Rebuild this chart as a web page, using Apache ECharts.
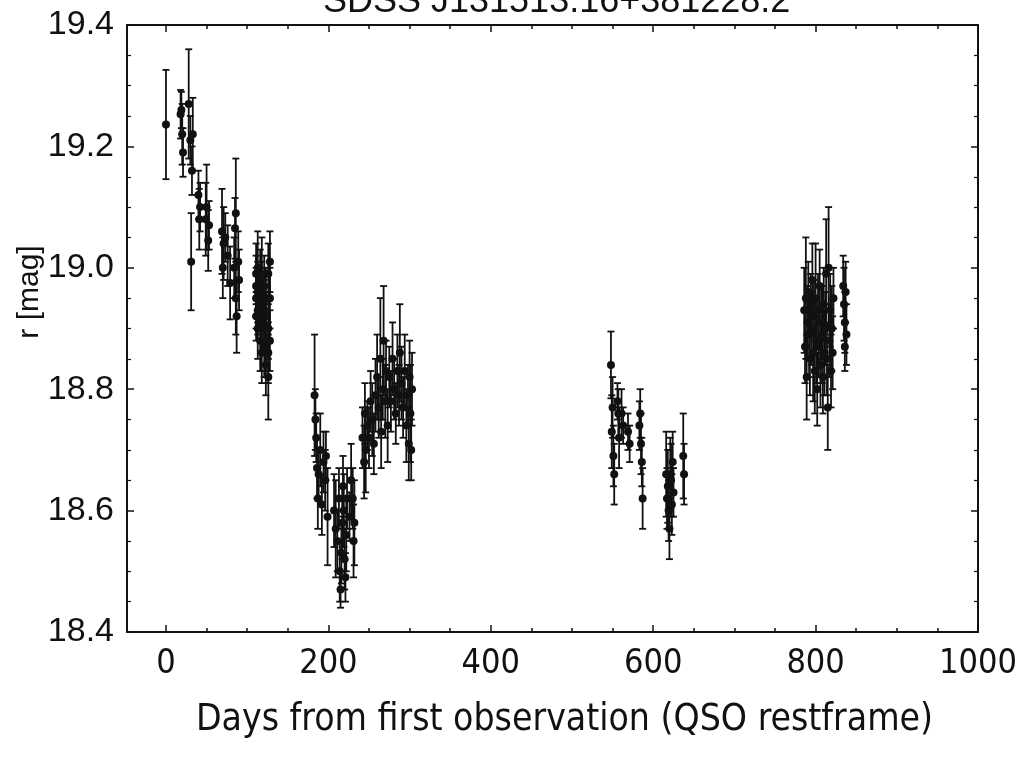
<!DOCTYPE html>
<html>
<head>
<meta charset="utf-8">
<script src="https://cdn.jsdelivr.net/npm/echarts@6/dist/echarts.min.js"></script>
<style>
html,body{margin:0;padding:0;background:#fff;}
#chart{width:1024px;height:763px;}
</style>
</head>
<body>
<div id="chart"></div>
<script>
// ---- Data: [day, r magnitude, error] ----
const days = [
  0,18,19,20,21,28,30,31,32,33,40,41,42,49,50,52,53,
  69,70,71,73,76,79,84,85,86,86,87,89,90,
  111,111,111,111,113,113,113,113,116,116,116,116,118,118,118,118,121,121,121,121,123,123,123,123,126,126,126,126,128,128,128,
  183,184,185,186,187,188,190,192,194,196,197,199,
  207,209,211,213,214,215,216,217,218,219,220,221,222,223,226,228,230,231,232,
  242,244,245,246,248,250,252,254,256,258,260,262,264,265,267,268,270,271,273,275,277,279,281,283,285,287,288,290,292,294,296,298,299,300,301,302,303,
  548,549,550,551,552,556,557,558,561,563,569,571,583,584,585,586,587,
  616,617,618,619,620,621,622,623,624,625,637,638,
  786,787,788,789,790,791,792,793,794,795,796,797,798,799,800,801,802,803,804,805,806,807,808,809,810,811,812,813,814,815,816,817,818,819,820,821,822,834,835,836,837,838,836
];
const mags = [
  19.236,19.253,19.26,19.22,19.19,19.27,19.21,19.01,19.16,19.22,19.12,19.08,19.10,19.08,19.10,19.045,19.07,
  19.06,19.00,19.04,19.05,19.02,18.975,19.00,19.065,19.09,18.95,18.92,19.01,18.98,
  18.97,18.95,18.92,18.99,18.96,18.93,18.90,19.00,18.95,18.98,18.88,18.94,18.96,18.91,18.99,18.86,18.93,18.97,18.90,18.87,18.95,18.88,18.84,18.92,18.99,18.86,18.82,18.90,18.95,18.88,19.01,
  18.79,18.75,18.72,18.67,18.62,18.66,18.70,18.61,18.68,18.65,18.69,18.59,
  18.60,18.57,18.55,18.62,18.50,18.47,18.53,18.58,18.64,18.60,18.52,18.49,18.56,18.62,18.59,18.65,18.62,18.55,18.58,
  18.72,18.68,18.76,18.70,18.74,18.72,18.78,18.75,18.71,18.79,18.82,18.77,18.85,18.73,18.80,18.88,18.78,18.83,18.74,18.82,18.78,18.85,18.80,18.76,18.83,18.79,18.86,18.81,18.77,18.83,18.74,18.79,18.71,18.82,18.76,18.70,18.80,
  18.84,18.73,18.77,18.69,18.66,18.78,18.76,18.72,18.76,18.74,18.73,18.71,18.74,18.76,18.71,18.68,18.62,
  18.66,18.62,18.64,18.60,18.57,18.66,18.65,18.61,18.68,18.63,18.69,18.66,
  18.93,18.87,18.95,18.82,18.91,18.96,18.89,18.85,18.94,18.90,18.98,18.86,18.92,18.83,18.95,18.88,18.80,18.93,18.87,18.97,18.84,18.91,18.89,18.82,18.94,18.86,18.90,18.99,18.85,18.77,19.00,18.88,18.93,18.83,18.90,18.86,18.95,18.97,18.94,18.91,18.96,18.89,18.87
];
const errs = [
  0.09,0.04,0.03,0.05,0.04,0.09,0.04,0.08,0.04,0.06,0.04,0.05,0.04,0.06,0.07,0.05,0.04,
  0.07,0.05,0.06,0.04,0.05,0.06,0.05,0.05,0.09,0.06,0.06,0.05,0.05,
  0.05,0.05,0.04,0.05,0.05,0.04,0.05,0.06,0.05,0.05,0.05,0.04,0.05,0.05,0.06,0.05,0.05,0.05,0.04,0.05,0.05,0.05,0.05,0.04,0.05,0.05,0.07,0.05,0.05,0.05,0.05,
  0.10,0.05,0.04,0.05,0.05,0.04,0.06,0.05,0.05,0.05,0.04,0.08,
  0.06,0.08,0.05,0.05,0.05,0.03,0.05,0.06,0.05,0.06,0.05,0.04,0.06,0.05,0.04,0.06,0.05,0.06,0.07,
  0.05,0.06,0.05,0.07,0.04,0.05,0.05,0.06,0.05,0.06,0.07,0.05,0.10,0.06,0.05,0.09,0.06,0.05,0.06,0.05,0.05,0.06,0.05,0.05,0.06,0.05,0.08,0.06,0.05,0.06,0.06,0.05,0.06,0.06,0.08,0.05,0.06,
  0.055,0.06,0.05,0.05,0.05,0.03,0.04,0.05,0.04,0.03,0.03,0.03,0.04,0.04,0.05,0.04,0.05,
  0.07,0.05,0.06,0.05,0.05,0.06,0.06,0.05,0.05,0.04,0.07,0.05,
  0.07,0.06,0.10,0.07,0.06,0.05,0.07,0.06,0.05,0.06,0.06,0.08,0.06,0.07,0.09,0.07,0.06,0.06,0.05,0.06,0.07,0.06,0.08,0.06,0.06,0.07,0.06,0.09,0.06,0.07,0.10,0.06,0.06,0.06,0.07,0.06,0.05,0.05,0.06,0.05,0.05,0.05,0.04
];
const xMajorTicks = [0,200,400,600,800,1000];
const xMinorTicks = [50,100,150,250,300,350,450,500,550,650,700,750,850,900,950];
const yTicks = [18.4,18.6,18.8,19.0,19.2,19.4];
const titleText = 'SDSS J131513.16+381228.2';
const xName = 'Days from first observation (QSO restframe)';
const yName = 'r [mag]';

const points = days.map((d,i)=>[d, mags[i], errs[i]]);

const narrow = "'Liberation Sans Narrow','DejaVu Sans Condensed','Arial Narrow',sans-serif";
const regular = "'Liberation Sans',Arial,Helvetica,sans-serif";
const ink = '#111';

function xAxisDef(pos, ticks, len, showLine, showLabel){
  return {
    type:'value', position:pos, min:-48, max:1000,
    axisLine:{show:showLine, onZero:false, lineStyle:{color:ink, width:2}},
    axisTick:{show:true, inside:true, length:len, customValues:ticks, lineStyle:{color:ink, width:1.5}},
    axisLabel:{show:showLabel, customValues:ticks, formatter:v=>String(v), fontFamily:narrow, fontSize:34, color:ink, margin:15},
    splitLine:{show:false},
    name: showLabel ? xName : '',
    nameLocation:'middle', nameGap:70,
    nameTextStyle:{fontFamily:narrow, fontSize:37, color:ink, padding:[0,0,0,24]}
  };
}

const option = {
  backgroundColor:'#fff',
  animation:false,
  title:{
    text:titleText, left:318, top:-21,
    textStyle:{fontFamily:regular, fontSize:36, fontWeight:'normal', color:ink}
  },
  graphic:[{
    type:'text', x:30, y:292, rotation:Math.PI/2,
    style:{text:yName, fontFamily:regular, fontSize:30, fill:ink, textAlign:'center', textVerticalAlign:'middle'}
  }],
  grid:{left:127, right:46, top:25, bottom:131, show:false},
  xAxis:[
    xAxisDef('bottom', xMajorTicks, 7, true, true),
    xAxisDef('bottom', xMinorTicks, 4, false, false),
    xAxisDef('top', xMajorTicks, 7, true, false),
    xAxisDef('top', xMinorTicks, 4, false, false)
  ],
  yAxis:[
    {
      type:'value', position:'left', min:18.4, max:19.4, interval:0.2,
      axisLine:{show:true, onZero:false, lineStyle:{color:ink, width:2}},
      axisTick:{show:true, inside:true, length:7, lineStyle:{color:ink, width:1.5}},
      minorTick:{show:true, splitNumber:4, length:4, lineStyle:{color:ink, width:1.2}},
      axisLabel:{customValues:yTicks, formatter:v=>Number(v).toFixed(1), fontFamily:regular, fontSize:34, color:ink, margin:13},
      splitLine:{show:false}
    },
    {
      type:'value', position:'right', min:18.4, max:19.4, interval:0.2,
      axisLine:{show:true, onZero:false, lineStyle:{color:ink, width:2}},
      axisTick:{show:true, inside:true, length:7, lineStyle:{color:ink, width:1.5}},
      minorTick:{show:true, splitNumber:4, length:4, lineStyle:{color:ink, width:1.2}},
      axisLabel:{show:false},
      splitLine:{show:false}
    }
  ],
  series:[
    {
      type:'custom', xAxisIndex:0, yAxisIndex:0,
      data:points,
      renderItem:function(params, api){
        const x = api.value(0), y = api.value(1), e = api.value(2);
        const top = api.coord([x, y + e]);
        const bot = api.coord([x, y - e]);
        const hw = 3.5;
        const st = {stroke:ink, lineWidth:1.8};
        return {type:'group', children:[
          {type:'line', shape:{x1:top[0], y1:top[1], x2:bot[0], y2:bot[1]}, style:st},
          {type:'line', shape:{x1:top[0]-hw, y1:top[1], x2:top[0]+hw, y2:top[1]}, style:st},
          {type:'line', shape:{x1:bot[0]-hw, y1:bot[1], x2:bot[0]+hw, y2:bot[1]}, style:st}
        ]};
      },
      z:2
    },
    {
      type:'scatter', xAxisIndex:0, yAxisIndex:0,
      data:points.map(p=>[p[0],p[1]]),
      symbol:'circle', symbolSize:8,
      itemStyle:{color:ink, opacity:1},
      z:3
    }
  ]
};

const chart = echarts.init(document.getElementById('chart'), null, {renderer:'canvas'});
chart.setOption(option);
</script>
</body>
</html>
